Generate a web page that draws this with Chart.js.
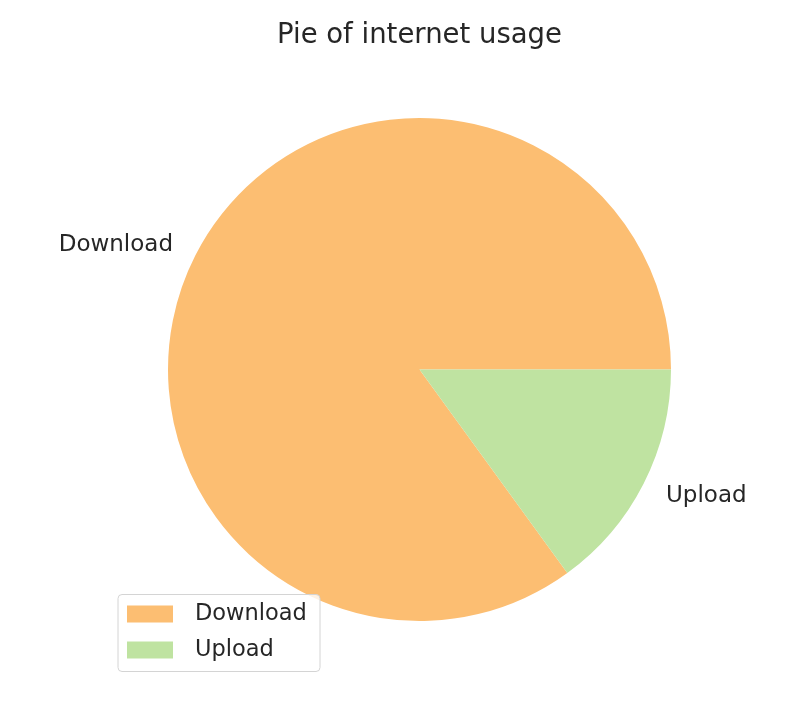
<!DOCTYPE html>
<html>
<head>
<meta charset="utf-8">
<script src="https://cdn.jsdelivr.net/npm/chart.js@4/dist/chart.umd.min.js"></script>
<style>
  html, body { margin: 0; padding: 0; background: #ffffff; }
  #wrap { width: 792px; height: 704px; }
</style>
</head>
<body>
<div id="wrap"><canvas id="c" width="792" height="704"></canvas></div>
<script>
const chartTitle = "Pie of internet usage";
const categories = ["Download", "Upload"];
const usageValues = [85, 15];
const sliceColors = ["#fcbe72", "#bfe3a1"];

const FONT = "'DejaVu Sans', sans-serif";
const total = usageValues.reduce((a, b) => a + b, 0);
// matplotlib: first wedge starts at 3 o'clock going counter-clockwise.
// Chart.js draws clockwise, so rotate so the last wedge ends at 3 o'clock.
const rotationDeg = 90 + 360 * usageValues[usageValues.length - 1] / total;

const piePlugin = {
  id: 'mplPie',
  afterDraw(chart) {
    const ctx = chart.ctx;
    const meta = chart.getDatasetMeta(0);
    ctx.save();
    // outer labels
    ctx.font = "23px " + FONT;
    ctx.fillStyle = "#262626";
    ctx.textBaseline = "middle";
    meta.data.forEach((arc, i) => {
      const mid = (arc.startAngle + arc.endAngle) / 2;
      const r = arc.outerRadius * 1.1;
      const x = arc.x + Math.cos(mid) * r;
      const y = arc.y + Math.sin(mid) * r + 1;
      ctx.textAlign = Math.cos(mid) < 0 ? "right" : "left";
      ctx.fillText(categories[i], x, y);
    });
    // legend
    const lx = 118, ly = 594.5, lw = 202, lh = 77;
    ctx.beginPath();
    ctx.roundRect(lx, ly, lw, lh, 4);
    ctx.fillStyle = "rgba(255,255,255,0.8)";
    ctx.fill();
    ctx.strokeStyle = "#d4d4d4";
    ctx.lineWidth = 1;
    ctx.stroke();
    ctx.font = "22.5px " + FONT;
    ctx.textAlign = "left";
    categories.forEach((name, i) => {
      const cy = 614 + i * 36;
      ctx.fillStyle = sliceColors[i];
      ctx.fillRect(127, cy - 8.5, 46, 17);
      ctx.fillStyle = "#262626";
      ctx.fillText(name, 195, cy);
    });
    ctx.restore();
  }
};

new Chart(document.getElementById('c'), {
  type: 'pie',
  data: {
    labels: categories,
    datasets: [{
      data: usageValues,
      backgroundColor: sliceColors,
      borderWidth: 0,
      hoverOffset: 0
    }]
  },
  options: {
    responsive: false,
    animation: false,
    rotation: rotationDeg,
    layout: { padding: { left: 168, right: 121, top: 0, bottom: 83 } },
    plugins: {
      legend: { display: false },
      tooltip: { enabled: false },
      title: {
        display: true,
        text: chartTitle,
        color: "#262626",
        font: { family: FONT, size: 27.5, weight: 'normal', lineHeight: 1.2 },
        padding: { top: 19, bottom: 66 }
      }
    }
  },
  plugins: [piePlugin]
});
</script>
</body>
</html>
